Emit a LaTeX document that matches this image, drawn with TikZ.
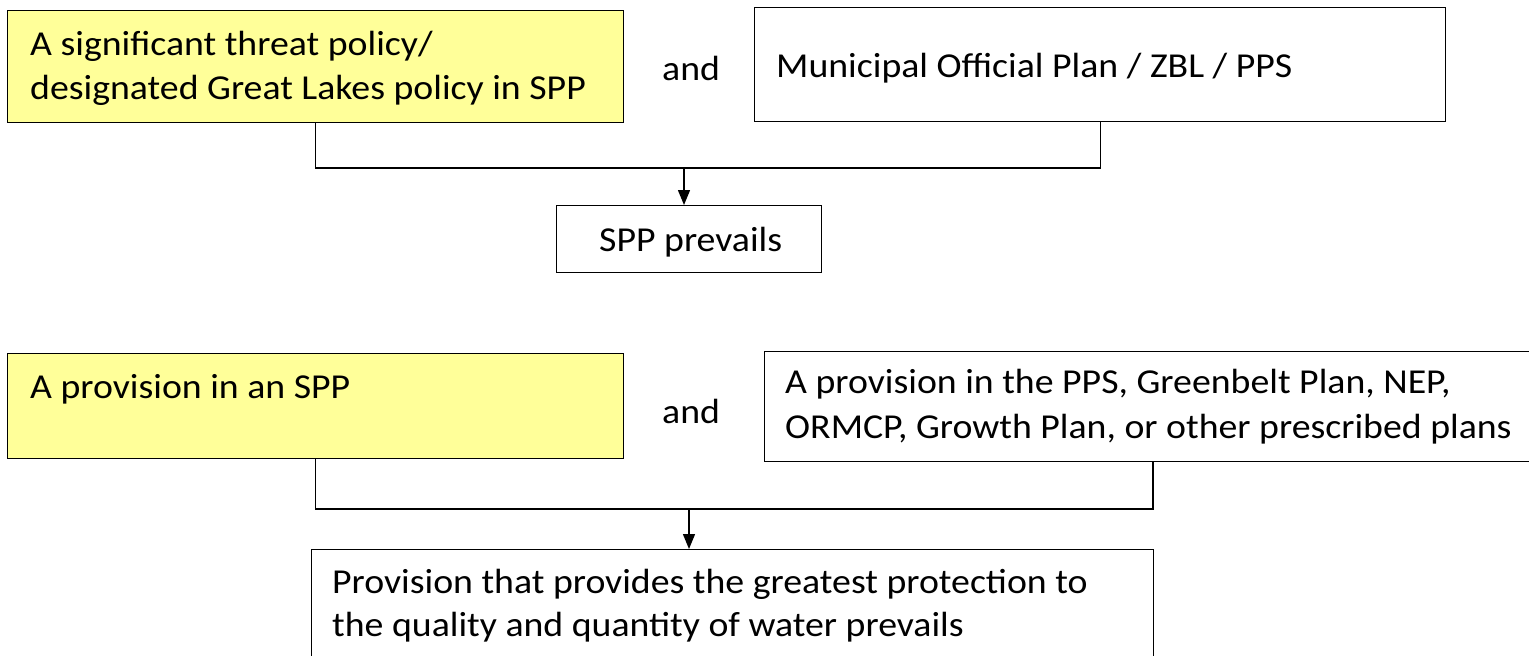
\documentclass[tikz,border=0pt]{standalone}
\usepackage{fontspec}
\setmainfont{Carlito}[FakeStretch=1.08]
\usetikzlibrary{arrows.meta}
\definecolor{spp}{RGB}{255,255,153}
\begin{document}
\begin{tikzpicture}[x=1pt,y=-1pt,
  box/.style={draw=black,line width=1.4pt,rectangle,inner sep=0pt,anchor=north west},
  sppbox/.style={box,fill=spp},
  txt/.style={inner sep=0pt,anchor=base west,font=\fontsize{35}{43}\selectfont},
  link/.style={draw=black,line width=1.4pt},
  arrowlink/.style={link,-{Triangle[length=15pt,width=12pt]}}]
\useasboundingbox (0,0) rectangle (1529,656);

% first comparison: SPP policy versus municipal plans
\node[sppbox,minimum width=616pt,minimum height=112pt] (b1) at (7,10) {};
\node[box,minimum width=691pt,minimum height=114pt] (b2) at (754,7) {};
\node[box,minimum width=265pt,minimum height=67pt] (b3) at (556,205) {};
\node[txt] (t1a) at (30,55) {A significant threat policy/};
\node[txt] (t1b) at (30,99) {designated Great Lakes policy in SPP};
\node[txt] (t2) at (776,77) {Municipal Official Plan / ZBL / PPS};
\node[txt] (t3) at (599,251) {SPP prevails};
\node[txt] (and1) at (662,80) {and};

\coordinate (j1) at (684,168);
\draw[link] (b1.south) |- (j1) -| (b2.south);
\draw[arrowlink] (j1) -- (j1 |- b3.north);

% second comparison: SPP provision versus provincial plans
\node[sppbox,minimum width=616pt,minimum height=105pt] (b4) at (7,353) {};
\begin{scope}
\clip (0,0) rectangle (1529,656);
\node[box,minimum width=781pt,minimum height=110pt] (b6) at (764,351) {};
\node[box,minimum width=842pt,minimum height=131pt] (b5) at (311,549) {};
\end{scope}
\node[txt] (t4) at (30,398) {A provision in an SPP};
\node[txt] (t6a) at (785,393) {A provision in the PPS, Greenbelt Plan, NEP,};
\node[txt] (t6b) at (785,438) {ORMCP, Growth Plan, or other prescribed plans};
\node[txt] (t5a) at (332,593) {Provision that provides the greatest protection to};
\node[txt] (t5b) at (332,636) {the quality and quantity of water prevails};
\node[txt] (and2) at (662,423) {and};

\coordinate (d6) at (1153,461);
\coordinate (j2) at (689,509);
\draw[link] (b4.south) |- (j2) -| (d6);
\draw[arrowlink] (j2) -- (j2 |- b5.north);
\end{tikzpicture}
\end{document}
